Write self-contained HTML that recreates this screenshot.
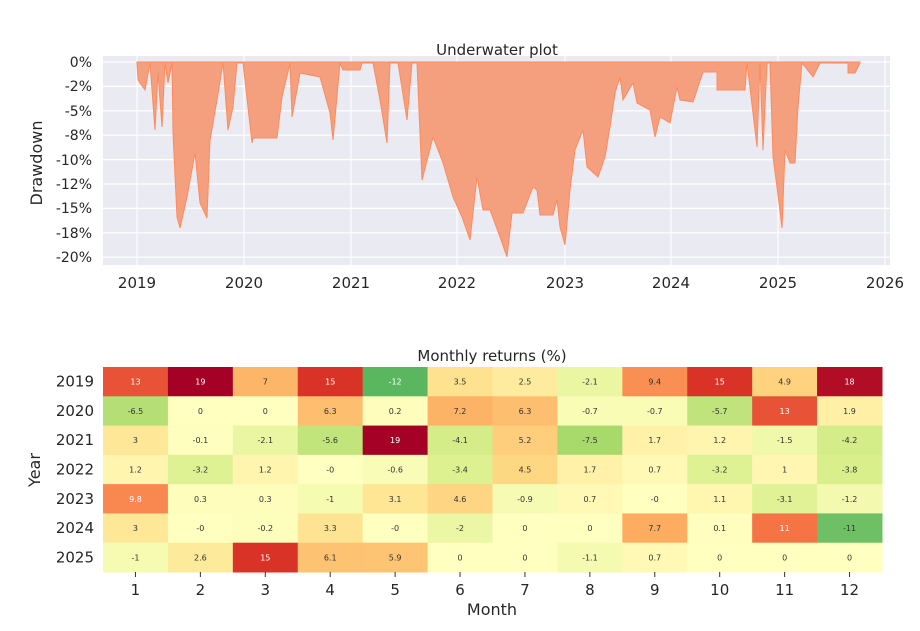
<!DOCTYPE html>
<html><head><meta charset="utf-8"><style>
body{margin:0;background:#fff;}
svg{display:block;font-family:"DejaVu Sans","Liberation Sans",sans-serif;}
</style></head><body>
<svg id="s" width="920" height="631" viewBox="0 0 920 631">
<rect x="103" y="56" width="787" height="209" fill="#eaeaf2"/>
<g stroke="#fff" stroke-width="1.2">
<line x1="103" x2="890" y1="62" y2="62"/><line x1="103" x2="890" y1="86.4" y2="86.4"/><line x1="103" x2="890" y1="110.8" y2="110.8"/><line x1="103" x2="890" y1="135.2" y2="135.2"/><line x1="103" x2="890" y1="159.6" y2="159.6"/><line x1="103" x2="890" y1="184" y2="184"/><line x1="103" x2="890" y1="208.4" y2="208.4"/><line x1="103" x2="890" y1="232.8" y2="232.8"/><line x1="103" x2="890" y1="257.2" y2="257.2"/>
<line y1="56" y2="265" x1="137" x2="137"/><line y1="56" y2="265" x1="244" x2="244"/><line y1="56" y2="265" x1="351" x2="351"/><line y1="56" y2="265" x1="457" x2="457"/><line y1="56" y2="265" x1="565" x2="565"/><line y1="56" y2="265" x1="671" x2="671"/><line y1="56" y2="265" x1="778" x2="778"/><line y1="56" y2="265" x1="885" x2="885"/>
</g>
<path d="M137,62 L137,63 138,80 145,90 150,63 155,130 158,73 162,127 165,63 168,83 172,63 173,133 177,217 180,228 187,197 195,153 200,203 207,218 210,140 217,100 223,63 228,130 233,107 237,63 243,63 252,143 253,138 277,138 282,97 290,63 292,117 300,73 320,77 330,113 333,140 340,63 343,70 360,70 362,63 373,63 380,100 387,143 390,63 398,63 407,120 412,63 417,63 422,180 433,137 443,163 453,197 462,217 470,240 477,177 483,210 490,210 500,237 507,257 512,213 523,213 533,187 537,190 540,215 553,215 557,200 560,227 565,245 570,190 575,150 583,130 587,167 598,177 605,157 610,127 615,93 620,77 623,100 633,83 637,103 650,110 655,137 660,117 670,123 677,87 680,100 693,102 703,72 717,72 717,90 745,90 747,63 753,113 757,147 760,63 763,150 767,63 770,63 773,157 777,187 782,228 785,150 790,163 795,163 798,107 802,63 813,77 820,63 848,63 848,73 855,73 860,63 L860,62 Z" fill="#f4a07f" stroke="#ff8a5c" stroke-width="1"/>
<g font-size="14" fill="#262626" text-anchor="end">
<text x="92" y="67">0%</text><text x="92" y="91">-2%</text><text x="92" y="116">-5%</text><text x="92" y="140">-8%</text><text x="92" y="165">-10%</text><text x="92" y="189">-12%</text><text x="92" y="213">-15%</text><text x="92" y="238">-18%</text><text x="92" y="262">-20%</text>
</g>
<g font-size="15" fill="#262626" text-anchor="middle">
<text x="137" y="288">2019</text><text x="244" y="288">2020</text><text x="351" y="288">2021</text><text x="457" y="288">2022</text><text x="565" y="288">2023</text><text x="671" y="288">2024</text><text x="778" y="288">2025</text><text x="885" y="288">2026</text>
<text x="497" y="55" font-size="15">Underwater plot</text>
<text x="492" y="361" font-size="15">Monthly returns (%)</text>
<text x="492" y="615" font-size="16">Month</text>
</g>
<text transform="translate(42,163) rotate(-90)" font-size="16" fill="#262626" text-anchor="middle">Drawdown</text>
<text transform="translate(40,470) rotate(-90)" font-size="16" fill="#262626" text-anchor="middle">Year</text>
<g id="hm"></g>
</svg>
<script>
var d=[[13,19,7,15,-12,3.5,2.5,-2.1,9.4,15,4.9,18],
[-6.5,0,0,6.3,0.2,7.2,6.3,-0.7,-0.7,-5.7,13,1.9],
[3,-0.1,-2.1,-5.6,19,-4.1,5.2,-7.5,1.7,1.2,-1.5,-4.2],
[1.2,-3.2,1.2,"-0",-0.6,-3.4,4.5,1.7,0.7,-3.2,1,-3.8],
[9.8,0.3,0.3,-1,3.1,4.6,-0.9,0.7,"-0",1.1,-3.1,-1.2],
[3,"-0",-0.2,3.3,"-0",-2,0,0,7.7,0.1,11,-11],
[-1,2.6,15,6.1,5.9,0,0,-1.1,0.7,0,0,0]];
var stops=[[0,104,55],[26,152,80],[102,189,99],[166,217,106],[217,239,139],[255,255,191],[254,224,139],[253,174,97],[244,109,67],[215,48,39],[165,0,38]];
function col(v){var t=(v+19)/38;t=Math.max(0,Math.min(1,t))*10;var i=Math.min(9,Math.floor(t)),f=t-i,a=stops[i],b=stops[i+1];
return "rgb("+[0,1,2].map(function(k){return Math.round(a[k]+(b[k]-a[k])*f)}).join(",")+")";}
var h="",x0=103,y0=367,cw=(882-103)/12,ch=(572-367)/7,yrs=[2019,2020,2021,2022,2023,2024,2025];
for(var r=0;r<7;r++){h+='<text x="94" y="'+(y0+ch*r+ch/2+5)+'" font-size="15" fill="#262626" text-anchor="end">'+yrs[r]+'</text>';
for(var c=0;c<12;c++){var v=+d[r][c];var x=x0+cw*c,y=y0+ch*r;
h+='<rect x="'+x+'" y="'+y+'" width="'+(cw+0.5)+'" height="'+(ch+0.5)+'" fill="'+col(v)+'"/>';
var w=(v>=9.6||v<=-11.5);
h+='<text x="'+(x+cw/2)+'" y="'+(y+ch/2+3)+'" font-size="8" text-anchor="middle" fill="'+(w?"#fff":"#333")+'">'+d[r][c]+'</text>';}}
for(var c=0;c<12;c++){var x=x0+cw*c+cw/2;h+='<line x1="'+x+'" x2="'+x+'" y1="572" y2="577" stroke="#333"/><text x="'+x+'" y="595" font-size="15" fill="#262626" text-anchor="middle">'+(c+1)+'</text>';}
document.getElementById("hm").innerHTML=h;
</script>
</body></html>
